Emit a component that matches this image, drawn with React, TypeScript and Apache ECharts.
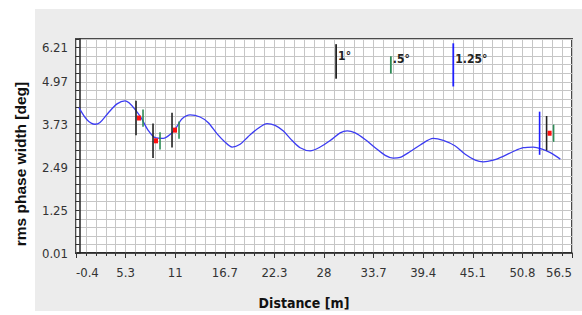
import React, { useEffect, useRef } from 'react';
import * as echarts from 'echarts';

// Axis tick labels as printed on the chart
const xTickLabels = ['-0.4', '5.3', '11', '16.7', '22.3', '28', '33.7', '39.4', '45.1', '50.8', '56.5'];
const yTickLabels = ['0.01', '1.25', '2.49', '3.73', '4.97', '6.21'];

// rms phase width curve (distance in m, width in deg)
const distance = [
  -0.06, 0.86, 1.78, 2.35, 3.27, 4.31, 5.22, 5.68, 6.37, 7.06, 7.86, 8.67, 9.59, 10.39, 11.19, 11.77,
  12.69, 13.83, 14.75, 15.79, 16.59, 17.51, 18.43, 19.34, 20.38, 21.52, 22.44, 23.36, 24.39, 25.31,
  26.46, 27.61, 28.76, 29.9, 30.71, 31.63, 32.77, 33.92, 35.07, 35.99, 36.79, 37.94, 39.09, 40.58,
  41.73, 43.11, 44.25, 45.4, 46.32, 47.47, 48.61, 49.76, 50.91, 52.06, 52.98, 54.01, 55.16,
];
const rmsWidth = [
  4.22, 3.87, 3.74, 3.79, 4.06, 4.33, 4.42, 4.36, 4.17, 3.93, 3.57, 3.35, 3.33, 3.44, 3.68, 3.9,
  4.01, 3.95, 3.79, 3.46, 3.25, 3.08, 3.16, 3.38, 3.6, 3.76, 3.71, 3.55, 3.27, 3.06,
  2.97, 3.08, 3.27, 3.49, 3.55, 3.49, 3.3, 3.06, 2.84, 2.76, 2.78, 2.95, 3.14, 3.33,
  3.27, 3.11, 2.87, 2.7, 2.65, 2.7, 2.81, 2.95, 3.06, 3.08, 3.03, 2.92, 2.73,
];

// measured points with their error bars (deg)
const markerDistance = [6.83, 8.78, 10.96, 53.93];
const markerWidth = [3.92, 3.26, 3.57, 3.48];
const barBlack = [1, 1, 1, 1];
const barGreen = [0.5, 0.5, 0.5, 0.5];
const barBlue = [0, 0, 0, 1.25];

// scale bars shown at the top of the plot
const scaleDistance = [29.44, 35.72, 42.88];
const scaleCenter = [5.56, 5.46, 5.46];
const scaleLength = [1, 0.5, 1.25];
const scaleLabels = ['1°', '.5°', '1.25°'];

const X_MIN = -0.4;
const X_MAX = 56.5;
const X_STEP = 5.69;
const Y_MIN = 0.01;
const Y_MAX = 6.21;
const Y_STEP = 0.248;

const NARROW = "'Liberation Sans Narrow', 'DejaVu Sans Condensed', sans-serif";

export default function App() {
  const ref = useRef<HTMLDivElement>(null);

  useEffect(() => {
    if (!ref.current) return;
    const chart = echarts.init(ref.current, undefined, { renderer: 'svg' });
    const scaleColors = ['#222222', '#2e8b57', '#1f1fff'];

    const option: any = {
      animation: false,
      backgroundColor: '#ffffff',
      graphic: [
        {
          type: 'rect',
          z: -10,
          silent: true,
          shape: { x: 35, y: 9, width: 547, height: 302 },
          style: { fill: '#ececec' },
        },
      ],
      grid: {
        left: 76,
        right: 10,
        top: 39,
        bottom: 48,
        show: true,
        backgroundColor: '#ffffff',
        borderColor: '#4a4a4a',
        borderWidth: 2,
        containLabel: false,
      },
      xAxis: {
        type: 'value',
        min: X_MIN,
        max: X_MAX,
        interval: X_STEP,
        name: 'Distance [m]',
        nameLocation: 'middle',
        nameGap: 43,
        nameTextStyle: {
          fontFamily: NARROW,
          fontWeight: 'bold',
          fontSize: 14,
          color: '#111',
          padding: [0, 40, 0, 0],
        },
        axisLine: { show: true, lineStyle: { color: '#222', width: 1.5 } },
        axisTick: { show: true, length: 5, lineStyle: { color: '#333' } },
        minorTick: { show: true, splitNumber: 5, length: 3, lineStyle: { color: '#333' } },
        splitLine: { show: true, lineStyle: { color: '#c6c6c6', width: 1 } },
        minorSplitLine: { show: true, lineStyle: { color: '#c6c6c6', width: 1 } },
        axisLabel: {
          margin: 13,
          fontFamily: NARROW,
          fontSize: 13,
          color: '#333',
          alignMinLabel: 'left',
          alignMaxLabel: 'right',
          formatter: (v: number) => {
            const i = Math.round((v - X_MIN) / X_STEP);
            return xTickLabels[i] ?? '';
          },
        },
      },
      yAxis: {
        type: 'value',
        min: Y_MIN,
        max: Y_MAX,
        interval: Y_STEP,
        name: 'rms phase width [deg]',
        nameLocation: 'middle',
        nameGap: 48,
        nameTextStyle: {
          fontFamily: "'Liberation Sans', Arial, sans-serif",
          fontWeight: 'bold',
          fontSize: 15.5,
          color: '#111',
          padding: [0, 36, 0, 0],
        },
        axisLine: { show: true, lineStyle: { color: '#222', width: 1.5 } },
        axisTick: { show: true, length: 4, lineStyle: { color: '#333' } },
        splitLine: { show: true, lineStyle: { color: '#c6c6c6', width: 1 } },
        axisLabel: {
          margin: 8,
          fontFamily: NARROW,
          fontSize: 13,
          color: '#333',
          formatter: (v: number) => {
            const i = Math.round((v - Y_MIN) / Y_STEP);
            if (i % 5 === 0 && i <= 20) return yTickLabels[i / 5];
            if (i === 24) return yTickLabels[5];
            return '';
          },
        },
      },
      series: [
        {
          type: 'line',
          data: distance.map((d, i) => [d, rmsWidth[i]]),
          showSymbol: false,
          smooth: 0.3,
          lineStyle: { color: '#3c3cf2', width: 1.3 },
          z: 3,
        },
        {
          type: 'custom',
          z: 5,
          data: markerDistance.map((d, i) => [d, markerWidth[i], barBlack[i], barGreen[i], barBlue[i]]),
          renderItem: (params: any, api: any) => {
            const c = api.coord([api.value(0), api.value(1)]);
            const hB = api.size([0, api.value(2)])[1];
            const hG = api.size([0, api.value(3)])[1];
            const blue = api.value(4);
            const children: any[] = [
              {
                type: 'line',
                shape: { x1: c[0] - 3, y1: c[1] - hB / 2, x2: c[0] - 3, y2: c[1] + hB / 2 },
                style: { stroke: '#222222', lineWidth: 1.6 },
              },
              {
                type: 'line',
                shape: { x1: c[0] + 4, y1: c[1] - hG / 2, x2: c[0] + 4, y2: c[1] + hG / 2 },
                style: { stroke: '#2e8b57', lineWidth: 1.6 },
              },
              {
                type: 'rect',
                shape: { x: c[0] - 2, y: c[1] - 2.5, width: 4, height: 5 },
                style: { fill: '#ff1010' },
              },
            ];
            if (blue > 0) {
              const hL = api.size([0, blue])[1];
              children.push({
                type: 'line',
                shape: { x1: c[0] - 10, y1: c[1] - hL / 2, x2: c[0] - 10, y2: c[1] + hL / 2 },
                style: { stroke: '#1f1fff', lineWidth: 1.6 },
              });
            }
            return { type: 'group', children };
          },
        },
        {
          type: 'custom',
          z: 5,
          data: scaleDistance.map((d, i) => [d, scaleCenter[i], scaleLength[i], i]),
          renderItem: (params: any, api: any) => {
            const c = api.coord([api.value(0), api.value(1)]);
            const h = api.size([0, api.value(2)])[1];
            const i = api.value(3);
            return {
              type: 'group',
              children: [
                {
                  type: 'line',
                  shape: { x1: c[0], y1: c[1] - h / 2, x2: c[0], y2: c[1] + h / 2 },
                  style: { stroke: scaleColors[i], lineWidth: 1.8 },
                },
                {
                  type: 'text',
                  x: c[0] + 2,
                  y: c[1] - 5.5,
                  style: {
                    text: scaleLabels[i],
                    fill: '#222',
                    font: `bold 12px ${NARROW}`,
                    verticalAlign: 'middle',
                    align: 'left',
                  },
                },
              ],
            };
          },
        },
      ],
    };

    chart.setOption(option);
    return () => chart.dispose();
  }, []);

  return (
    <div
      ref={ref}
      style={{ position: 'absolute', left: 0, top: 0, width: 582, height: 315 }}
    />
  );
}
